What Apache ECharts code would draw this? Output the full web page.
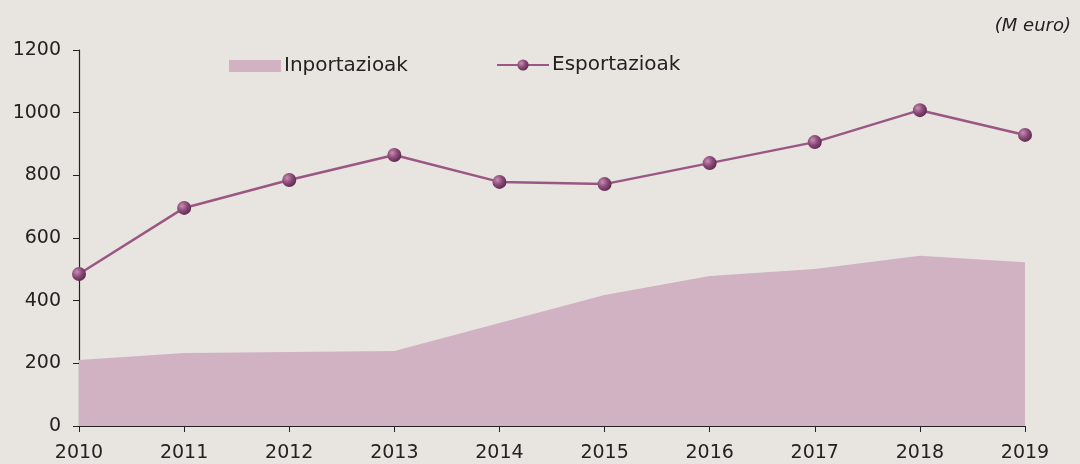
<!DOCTYPE html>
<html>
<head>
<meta charset="utf-8">
<script src="https://cdn.jsdelivr.net/npm/echarts@6/dist/echarts.min.js"></script>
<style>
  html, body { margin: 0; padding: 0; background: #e8e5e0; }
  #chart { width: 1080px; height: 464px; }
</style>
</head>
<body>
<div id="chart"></div>
<script>
// urteak
var years = ['2010', '2011', '2012', '2013', '2014', '2015', '2016', '2017', '2018', '2019'];
// M euro
var inportazioak = [211, 233, 236, 239, 329, 418, 479, 501, 543, 523];
var esportazioak = [485, 696, 785, 865, 779, 772, 839, 906, 1008, 929];
var yTicks = [0, 200, 400, 600, 800, 1000, 1200];

var lineColor = '#9a5783';
var areaColor = '#d1b2c3';
var font = '"DejaVu Sans", sans-serif';

var ball = new echarts.graphic.RadialGradient(0.35, 0.35, 0.7, [
  { offset: 0, color: '#c88fb6' },
  { offset: 0.5, color: '#8e4c7a' },
  { offset: 1, color: '#5a2a4c' }
]);

var legendText = { fontFamily: font, fontSize: 20, color: '#222', padding: [0, 0, 0, -2] };

var chart = echarts.init(document.getElementById('chart'));
chart.setOption({
  backgroundColor: '#e8e5e0',
  animation: false,
  textStyle: { fontFamily: font },
  title: {
    text: '(M euro)',
    right: 4,
    top: 12,
    textStyle: { fontFamily: font, fontSize: 18, fontStyle: 'italic', fontWeight: 'normal', color: '#222' }
  },
  legend: [
    {
      top: 51,
      left: 224,
      itemWidth: 52,
      itemHeight: 12,
      textStyle: legendText,
      data: [{ name: 'Inportazioak', icon: 'rect', itemStyle: { color: areaColor } }]
    },
    {
      top: 50,
      left: 491,
      itemWidth: 52,
      itemHeight: 14,
      textStyle: legendText,
      data: ['Esportazioak']
    }
  ],
  grid: { left: 79, right: 55, top: 50, bottom: 38 },
  xAxis: {
    type: 'category',
    data: years,
    boundaryGap: false,
    axisLine: { lineStyle: { color: '#222', width: 1.2 } },
    axisTick: { alignWithLabel: true, length: 6, lineStyle: { color: '#222' } },
    axisLabel: { color: '#222', fontSize: 19, margin: 18 }
  },
  yAxis: {
    type: 'value',
    min: yTicks[0],
    max: yTicks[yTicks.length - 1],
    interval: 200,
    splitLine: { show: false },
    axisLine: { show: true, lineStyle: { color: '#222', width: 1.2 } },
    axisTick: { show: true, length: 6, lineStyle: { color: '#222' } },
    axisLabel: { color: '#222', fontSize: 19, margin: 18, formatter: function (v) { return String(v); } }
  },
  series: [
    {
      name: 'Inportazioak',
      type: 'line',
      data: inportazioak,
      symbol: 'none',
      lineStyle: { width: 0 },
      itemStyle: { color: areaColor },
      areaStyle: { color: areaColor, opacity: 1 }
    },
    {
      name: 'Esportazioak',
      type: 'line',
      data: esportazioak,
      symbol: 'circle',
      symbolSize: 14,
      lineStyle: { color: lineColor, width: 2.5 },
      itemStyle: { color: ball, borderWidth: 0 },
      z: 3
    }
  ]
});
</script>
</body>
</html>
